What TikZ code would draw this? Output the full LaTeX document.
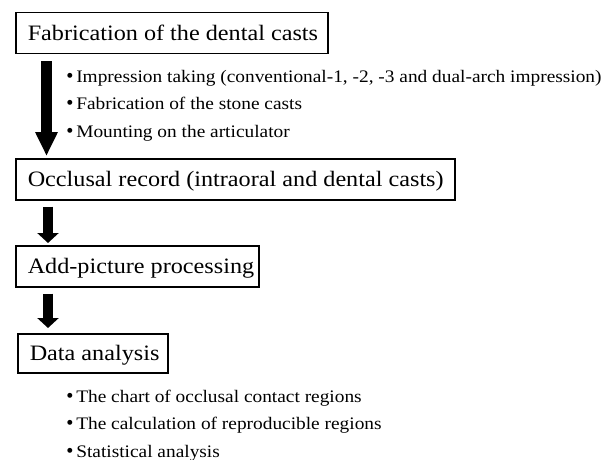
\documentclass[tikz,border=0pt]{standalone}
\usepackage{fontspec}
\setmainfont{Liberation Serif}[FakeStretch=1.1]
\newfontfamily\cjk{Noto Sans CJK JP}
\usetikzlibrary{arrows.meta}
\newcommand{\bul}{{\cjk\bfseries ・}\hspace{-3pt}}
\newcommand{\boxtext}[2]{\makebox[#1][l]{#2}}

\begin{document}
\begin{tikzpicture}[x=1pt,y=-1pt,
  stage/.style={draw,line width=1.5pt,anchor=north west,inner xsep=12pt,inner ysep=0pt,
    minimum height=41pt,text height=19pt,text depth=4pt,font=\fontsize{22}{26}\selectfont},
  item/.style={anchor=base west,inner sep=0pt,font=\fontsize{17.6}{21}\selectfont},
  flow/.style={line width=10pt,-{Triangle[width=21pt,length=10pt]}}]
\useasboundingbox (0,0) rectangle (616,460);
% stages
\node[stage] (cast) at (15,12) {\boxtext{288pt}{Fabrication of the dental casts}};
\node[stage] (occl) at (15,158) {\boxtext{415pt}{Occlusal record (intraoral and dental casts)}};
\node[stage] (proc) at (15,245) {\boxtext{219pt}{Add-picture processing}};
\node[stage,minimum height=39pt] (data) at (17,333) {\boxtext{126pt}{Data analysis}};
% steps
\node[item] (c1) at (61.5,83) {\bul Impression taking (conventional-1, -2, -3 and dual-arch impression)};
\node[item] (c2) at (61.5,110) {\bul Fabrication of the stone casts};
\node[item] (c3) at (61.5,137) {\bul Mounting on the articulator};
\node[item] (d1) at (61.5,402) {\bul The chart of occlusal contact regions};
\node[item] (d2) at (61.5,429) {\bul The calculation of reproducible regions};
\node[item] (d3) at (61.5,457) {\bul Statistical analysis};
% arrows
\draw[flow,line width=11pt,-{Triangle[width=21pt,length=24pt]}]
  ([xshift=31.5pt,yshift=-7pt]cast.south west) -- ([xshift=31.5pt,yshift=2pt]occl.north west);
\draw[flow] ([xshift=33pt,yshift=-6pt]occl.south west) -- ([xshift=33pt,yshift=2pt]proc.north west);
\draw[flow] ([xshift=33pt,yshift=-6pt]proc.south west) -- ([xshift=31pt,yshift=5pt]data.north west);
\end{tikzpicture}
\end{document}
